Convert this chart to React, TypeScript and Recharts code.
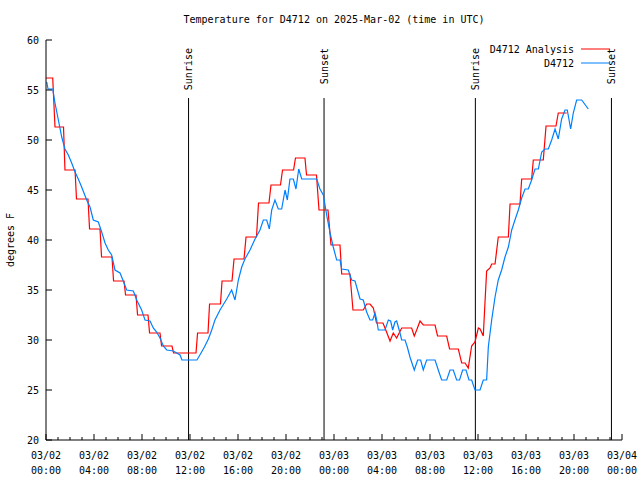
import React from 'react';
import { LineChart, Line, XAxis, YAxis, ReferenceLine, Legend } from 'recharts';

const FONT = '"DejaVu Sans Mono", "Liberation Mono", monospace';

// hours since 03/02 00:00 UTC
const analysisHours = [
  0, 0.56, 0.75, 1.46, 1.58, 2.42, 2.54, 3.5, 3.63, 4.5,
  4.63, 5.5, 5.63, 6.5, 6.63, 7.5, 7.63, 8.5, 8.63, 9.5,
  9.63, 10.5, 10.63, 12.5, 12.63, 13.5, 13.63, 14.54, 14.67, 15.5,
  15.67, 16.5, 16.67, 17.54, 17.71, 18.58, 18.75, 19.54, 19.71, 20.63,
  20.79, 21.58, 21.71, 22.54, 22.75, 23.5, 23.75, 24.5, 24.64, 25.33,
  25.58, 26.44, 26.72, 27.0, 27.28, 27.54, 28.08, 28.25, 28.67, 28.94,
  29.22, 29.64, 30.47, 30.69, 30.89, 31.17, 31.44, 32.42, 32.63, 33.39,
  33.63, 34.36, 34.64, 34.92, 35.19, 35.47, 35.75, 36.03, 36.17, 36.44,
  36.58, 36.72, 37.0, 37.14, 37.42, 37.56, 37.69, 38.53, 38.67, 39.5,
  39.64, 40.47, 40.61, 41.44, 41.67, 42.5, 42.69, 43.39,
];
const analysisTemps = [
  56.2, 56.2, 51.3, 51.3, 47.0, 47.0, 44.1, 44.1, 41.1, 41.1,
  38.3, 38.3, 35.9, 35.9, 34.5, 34.5, 32.5, 32.5, 30.7, 30.7,
  29.4, 29.4, 28.7, 28.7, 30.7, 30.7, 33.6, 33.6, 35.9, 35.9,
  38.1, 38.1, 40.3, 40.3, 43.7, 43.7, 45.5, 45.5, 47.0, 47.0,
  48.2, 48.2, 46.5, 46.5, 43.0, 43.0, 39.5, 39.5, 36.6, 36.6,
  33.0, 33.0, 33.6, 33.6, 33.2, 31.7, 31.7, 31.2, 29.9, 30.7,
  30.2, 31.2, 31.2, 30.4, 31.0, 31.9, 31.5, 31.5, 30.4, 30.4,
  29.1, 29.1, 27.7, 27.7, 27.2, 29.4, 29.8, 31.2, 31.1, 30.4,
  33.7, 36.9, 37.2, 37.6, 37.6, 39.0, 40.3, 40.3, 43.6, 43.6,
  46.1, 46.1, 48.0, 48.0, 51.4, 51.4, 52.7, 52.7,
];

const obsHours = [
  0.06, 0.17, 0.56, 0.75, 1.03, 1.31, 1.58, 1.86, 2.14, 2.42,
  2.69, 2.97, 3.39, 3.67, 3.94, 4.36, 4.64, 4.92, 5.19, 5.47,
  5.75, 6.17, 6.44, 6.72, 7.28, 7.56, 7.97, 8.25, 8.67, 8.94,
  9.22, 9.5, 9.78, 10.06, 10.61, 11.17, 11.33, 12.58, 12.92, 13.2,
  13.53, 13.81, 14.08, 14.5, 15.06, 15.47, 15.75, 16.03, 16.31, 16.58,
  17.0, 17.42, 17.83, 18.11, 18.39, 18.61, 18.81, 19.08, 19.36, 19.64,
  19.92, 20.11, 20.33, 20.61, 20.83, 21.06, 21.31, 22.56, 22.83, 23.11,
  23.39, 23.67, 23.94, 24.22, 24.5, 24.64, 25.19, 25.47, 25.75, 26.03,
  26.17, 26.44, 26.72, 27.0, 27.22, 27.42, 27.56, 27.69, 28.25, 28.53,
  28.72, 28.89, 29.08, 29.22, 29.5, 29.64, 29.92, 30.11, 30.33, 30.69,
  30.97, 31.22, 31.44, 31.72, 32.42, 32.69, 32.97, 33.39, 33.67, 33.94,
  34.22, 34.46, 34.72, 35.0, 35.25, 35.47, 35.75, 36.17, 36.44, 36.72,
  36.86, 37.14, 37.42, 37.69, 37.97, 38.25, 38.53, 38.81, 39.08, 39.36,
  39.64, 39.92, 40.19, 40.47, 40.75, 41.03, 41.31, 41.58, 41.86, 42.14,
  42.42, 42.69, 42.97, 43.25, 43.44, 43.72, 43.94, 44.22, 44.64, 45.19,
];
const obsTemps = [
  55.8, 55.1, 55.1, 53.7, 52.0, 50.3, 49.1, 48.5, 47.7, 46.8,
  46.1, 45.3, 44.0, 43.3, 42.0, 41.8, 40.8, 39.7, 39.0, 38.5,
  37.0, 36.7, 35.9, 35.0, 34.9, 34.0, 33.0, 32.0, 31.9, 31.2,
  30.8, 30.2, 29.4, 29.0, 28.9, 28.5, 28.0, 28.0, 28.7, 29.3,
  30.1, 31.0, 32.0, 33.0, 34.1, 35.0, 34.0, 36.0, 37.3, 38.1,
  39.0, 40.1, 41.0, 42.0, 42.0, 41.1, 43.0, 44.0, 43.1, 43.1,
  45.0, 44.0, 46.1, 46.1, 45.1, 47.1, 46.1, 46.1, 45.1, 44.5,
  42.5, 40.7, 39.3, 38.0, 38.0, 37.1, 37.0, 36.0, 35.9, 34.7,
  34.1, 34.0, 32.8, 32.0, 32.0, 32.7, 32.0, 31.0, 31.0, 32.0,
  31.9, 31.0, 31.8, 31.9, 30.7, 30.0, 30.0, 29.3, 28.3, 27.0,
  28.0, 28.0, 27.0, 28.0, 28.0, 27.0, 26.0, 26.0, 27.0, 27.0,
  26.0, 26.0, 27.0, 27.0, 26.0, 26.0, 25.0, 25.0, 26.0, 26.0,
  29.3, 32.0, 34.3, 36.0, 37.0, 38.3, 39.3, 41.0, 42.0, 43.0,
  44.2, 45.1, 45.1, 46.0, 47.1, 47.1, 48.8, 49.1, 49.1, 50.0,
  51.1, 50.1, 52.1, 53.0, 53.0, 51.1, 52.7, 54.0, 54.0, 53.1,
];

const sunHours = [11.88, 23.17, 35.78, 47.12];
const sunLabels = ['Sunrise', 'Sunset', 'Sunrise', 'Sunset'];

const dayLabels = ['03/02', '03/03', '03/04'];
const hourTicks = Array.from({ length: 49 }, (_, i) => i);
const tempTicks = [20, 25, 30, 35, 40, 45, 50, 55, 60];

const analysisData = analysisHours.map((t, i) => ({ t, v: analysisTemps[i] }));
const obsData = obsHours.map((t, i) => ({ t, v: obsTemps[i] }));

const textProps = { fontFamily: FONT, fontSize: 10, fill: '#000' };

const BottomTick = ({ x, y, payload }: any) => {
  const h = payload.value;
  const major = h % 4 === 0;
  const day = dayLabels[Math.floor(h / 24)];
  const time = String(h % 24).padStart(2, '0') + ':00';
  return (
    <g>
      <line x1={x} x2={x} y1={y} y2={y - (major ? 6 : 3)} stroke="#000" />
      {major && (
        <text x={x} y={y} textAnchor="middle" {...textProps}>
          <tspan x={x} dy={19}>{day}</tspan>
          <tspan x={x} dy={15}>{time}</tspan>
        </text>
      )}
    </g>
  );
};

const TopTick = ({ x, y, payload }: any) => {
  const major = payload.value % 4 === 0;
  return <line x1={x} x2={x} y1={y} y2={y + (major ? 6 : 3)} stroke="#000" />;
};

const LeftTick = ({ x, y, payload }: any) => (
  <g>
    <line x1={x} x2={x + 6} y1={y} y2={y} stroke="#000" />
    <text x={x - 7} y={y} dy="0.35em" textAnchor="end" {...textProps}>{payload.value}</text>
  </g>
);

const RightTick = ({ x, y }: any) => <line x1={x} x2={x - 6} y1={y} y2={y} stroke="#000" />;

const SunMarker = ({ viewBox, text }: any) => {
  const { x, y, height } = viewBox;
  const ty = y + 8;
  return (
    <g>
      <line x1={x} x2={x} y1={y + 58} y2={y + height} stroke="#000" />
      <text x={x} y={ty} dy="0.35em" textAnchor="end" transform={`rotate(-90 ${x} ${ty})`} {...textProps}>
        {text}
      </text>
    </g>
  );
};

const renderLegend = () => (
  <svg width={150} height={28}>
    <text x={104} y={7} dy="0.35em" textAnchor="end" {...textProps}>D4712 Analysis</text>
    <line x1={111} x2={140} y1={7} y2={7} stroke="#ff0000" />
    <text x={104} y={21} dy="0.35em" textAnchor="end" {...textProps}>D4712</text>
    <line x1={111} x2={140} y1={21} y2={21} stroke="#0080ff" />
  </svg>
);

export default function App() {
  return (
    <div style={{ position: 'relative', width: 640, height: 480, background: '#fff' }}>
      <style>{'body{margin:0}'}</style>
      <div
        style={{
          position: 'absolute', top: 14, left: 46, width: 576, textAlign: 'center',
          fontFamily: FONT, fontSize: 10, lineHeight: '12px', color: '#000',
        }}
      >
        Temperature for D4712 on 2025-Mar-02 (time in UTC)
      </div>
      <LineChart width={640} height={480} margin={{ top: 40, right: 18, bottom: 10, left: 6 }}>
        <XAxis
          dataKey="t" type="number" domain={[0, 48]} ticks={hourTicks} interval={0}
          height={30} tickSize={0} tickMargin={0} tickLine={false}
          axisLine={{ stroke: '#000' }} tick={<BottomTick />} allowDataOverflow
        />
        <XAxis
          xAxisId="top" orientation="top" type="number" domain={[0, 48]} ticks={hourTicks} interval={0}
          height={0} tickSize={0} tickMargin={0} tickLine={false}
          axisLine={{ stroke: '#000' }} tick={<TopTick />} allowDataOverflow
        />
        <YAxis
          type="number" domain={[20, 60]} ticks={tempTicks} interval={0} width={40}
          tickSize={0} tickMargin={0} tickLine={false} axisLine={{ stroke: '#000' }}
          tick={<LeftTick />} allowDataOverflow
          label={{
            content: ({ viewBox }: any) => (
              <text x={viewBox.x + 8} y={viewBox.y + viewBox.height / 2} textAnchor="middle"
                transform={`rotate(-90 ${viewBox.x + 8} ${viewBox.y + viewBox.height / 2})`} {...textProps}>
                degrees F
              </text>
            ),
          }}
        />
        <YAxis
          yAxisId="right" orientation="right" type="number" domain={[20, 60]} ticks={tempTicks} interval={0}
          width={0} tickSize={0} tickMargin={0} tickLine={false} axisLine={{ stroke: '#000' }}
          tick={<RightTick />} allowDataOverflow
        />
        {sunHours.map((t, i) => (
          <ReferenceLine
            key={i} x={t} stroke="none"
            label={(p: any) => <SunMarker {...p} text={sunLabels[i]} />}
          />
        ))}
        <Legend
          content={renderLegend} layout="vertical" align="center" verticalAlign="middle"
          wrapperStyle={{ top: 42, left: 470, width: 150, height: 28 }}
        />
        <Line data={analysisData} dataKey="v" name="D4712 Analysis" type="linear"
          stroke="#ff0000" strokeWidth={1.2} dot={false} isAnimationActive={false} />
        <Line data={obsData} dataKey="v" name="D4712" type="linear"
          stroke="#0080ff" strokeWidth={1.2} dot={false} isAnimationActive={false} />
      </LineChart>
    </div>
  );
}
